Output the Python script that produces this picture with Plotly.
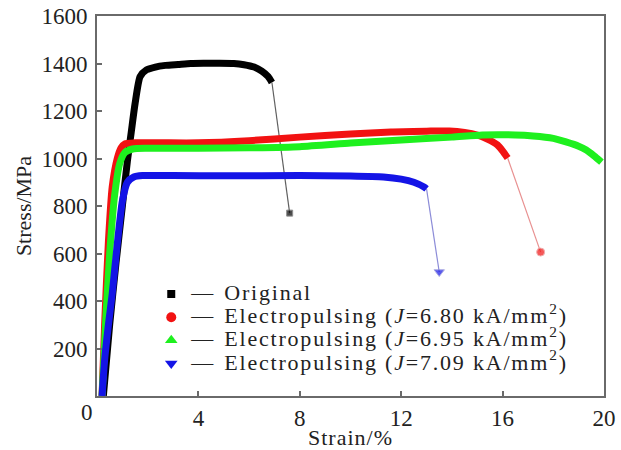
import plotly.graph_objects as go

# Stress-strain curves (strain in %, stress in MPa)
orig_strain = [0.25, 0.5, 0.75, 1.0, 1.2, 1.35, 1.5, 1.7, 1.95, 2.3, 2.7, 3.2, 3.7, 4.2, 4.8, 5.4, 5.8, 6.2, 6.5, 6.75, 6.9]
orig_stress = [0, 300, 560, 800, 990, 1110, 1230, 1345, 1373, 1385, 1392, 1396, 1400, 1401, 1401, 1400, 1395, 1385, 1368, 1345, 1320]
orig_fracture = (7.6, 770)

j680_strain = [0.2, 0.3, 0.45, 0.6, 0.8, 0.95, 1.1, 1.5, 2.5, 4.0, 6.0, 8.0, 10.0, 11.6, 13.0, 13.9, 14.5, 15.0, 15.4, 15.8, 16.0, 16.2]
j680_stress = [0, 300, 650, 880, 1000, 1045, 1062, 1066, 1066, 1066, 1075, 1090, 1103, 1112, 1115, 1116, 1110, 1099, 1082, 1057, 1032, 1002]
j680_fracture = (17.5, 606)

j695_strain = [0.2, 0.35, 0.5, 0.7, 0.9, 1.1, 1.4, 2.0, 4.0, 6.0, 8.0, 10.0, 12.0, 14.0, 15.2, 16.5, 17.2, 18.0, 18.5, 19.0, 19.3, 19.6, 19.9]
j695_stress = [0, 330, 600, 850, 980, 1025, 1040, 1043, 1043, 1045, 1050, 1065, 1078, 1090, 1099, 1099, 1095, 1085, 1070, 1052, 1036, 1012, 985]

j709_strain = [0.2, 0.3, 0.45, 0.6, 0.8, 1.0, 1.2, 1.45, 1.8, 3.0, 5.0, 8.0, 10.0, 11.3, 12.0, 12.5, 12.9, 13.0]
j709_stress = [0, 150, 300, 430, 640, 820, 900, 922, 928, 928, 927, 928, 926, 922, 913, 900, 880, 872]
j709_fracture = (13.5, 522)

x_ticks = [4, 8, 12, 16, 20]
y_ticks = [200, 400, 600, 800, 1000, 1200, 1400, 1600]

series = [
    ("Original", orig_strain, orig_stress, orig_fracture, "#000000", "#606060", "square", 8),
    ("Electropulsing (<i>J</i>=6.80 kA/mm<sup>2</sup>)", j680_strain, j680_stress, j680_fracture, "#f21212", "#e89090", "circle", 10),
    ("Electropulsing (<i>J</i>=6.95 kA/mm<sup>2</sup>)", j695_strain, j695_stress, None, "#1ef01e", None, "triangle-up", 11),
    ("Electropulsing (<i>J</i>=7.09 kA/mm<sup>2</sup>)", j709_strain, j709_stress, j709_fracture, "#1414e6", "#8c8cd8", "triangle-down", 11),
]

SERIF = "Liberation Serif"
fig = go.Figure()

for name, xs, ys, frac, color, thin, symbol, msize in series:
    # thick test record
    fig.add_trace(go.Scatter(x=xs, y=ys, mode="lines", showlegend=False,
                             line=dict(color=color, width=7, shape="spline", smoothing=0.6)))
    if frac is not None:
        # thin segment down to the fracture point
        fig.add_trace(go.Scatter(x=[xs[-1], frac[0]], y=[ys[-1], frac[1]], mode="lines+markers",
                                 showlegend=False, line=dict(color=thin, width=1.2),
                                 marker=dict(symbol=symbol, color=color, size=[0, msize - 2])))

# legend keys: marker, dash, label
for name, xs, ys, frac, color, thin, symbol, msize in series:
    label = ('<span style="font-size:22px">—\u00a0\u00a0</span>'
             '<span style="font-size:22px;letter-spacing:1.8px">' + name + "</span>")
    fig.add_trace(go.Scatter(x=[None], y=[None], mode="markers", name=label,
                             marker=dict(symbol=symbol, color=color, size=msize)))

axis_common = dict(showline=True, linecolor="#6a6a6a", linewidth=2, mirror=True,
                   showgrid=False, zeroline=False, ticks="inside", ticklen=5,
                   tickcolor="#6a6a6a", tickwidth=1.5, automargin=False,
                   tickfont=dict(family=SERIF, size=23, color="#222222"))

fig.update_layout(
    width=621, height=450,
    margin=dict(l=97, r=17, t=16, b=54),
    paper_bgcolor="white", plot_bgcolor="white",
    xaxis=dict(range=[0, 20], tickvals=x_ticks,
               title=dict(text='<span style="letter-spacing:1px">Strain/%</span>',
                          font=dict(family=SERIF, size=22, color="#222222"), standoff=2),
               **axis_common),
    yaxis=dict(range=[0, 1600], tickvals=y_ticks, ticklabelstandoff=3,
               title=dict(text="Stress/MPa", font=dict(family=SERIF, size=22, color="#222222"), standoff=4),
               **axis_common),
    legend=dict(x=0.107, y=0.312, xanchor="left", yanchor="top",
                bgcolor="rgba(0,0,0,0)", font=dict(family=SERIF, size=15.5, color="#222222"),
                tracegroupgap=0, itemwidth=30),
    annotations=[dict(text="0", xref="paper", yref="paper", x=0, y=0, xanchor="right", yanchor="top",
                      xshift=-2, yshift=-2, showarrow=False,
                      font=dict(family=SERIF, size=23, color="#222222"))],
)

fig.write_html("out.html")
